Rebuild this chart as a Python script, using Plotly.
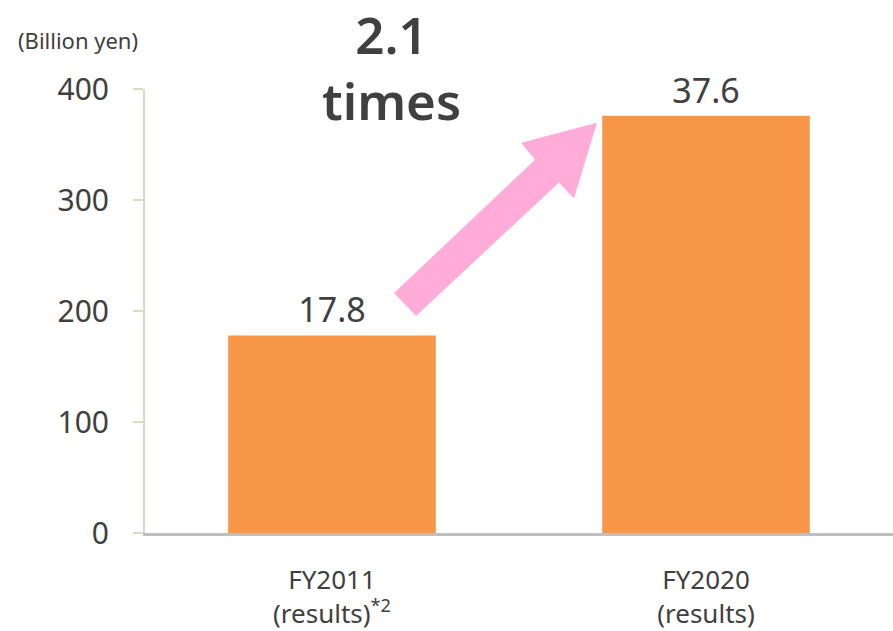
import plotly.graph_objects as go

categories = ["FY2011", "FY2020"]
tick_labels = ["FY2011<br>(results)<sup>*2</sup>", "FY2020<br>(results)"]
values = [178, 376]
bar_labels = ["17.8", "37.6"]
y_ticks = [0, 100, 200, 300, 400]

TXT = "#404040"
FONT = "Noto Sans"

fig = go.Figure()
fig.add_trace(go.Bar(
    x=categories, y=values, width=0.555,
    marker=dict(color="#F79646", line=dict(width=0)),
    text=bar_labels, textposition="outside",
    textfont=dict(size=34, color=TXT, family=FONT),
    cliponaxis=False, hoverinfo="skip",
))

fig.update_layout(
    width=893, height=631,
    margin=dict(l=145, r=0, t=89, b=96),
    paper_bgcolor="white", plot_bgcolor="white",
    showlegend=False,
    font=dict(family=FONT, color=TXT),
    xaxis=dict(
        type="category", range=[-0.5, 1.5],
        tickvals=categories, ticktext=tick_labels,
        tickfont=dict(size=26, color=TXT),
        showline=True, linecolor="#BFBFBF", linewidth=3,
        showgrid=False, ticks="", ticklabelstandoff=22,
    ),
    yaxis=dict(
        range=[0, 400], tickvals=y_ticks,
        tickfont=dict(size=30, color=TXT),
        showline=True, linecolor="#DDD9C3", linewidth=2,
        ticks="outside", ticklen=10, tickcolor="#DDD9C3", tickwidth=2,
        showgrid=False, zeroline=False, ticklabelstandoff=18,
    ),
)

# Axis unit label
fig.add_annotation(text="(Billion yen)", xref="paper", yref="paper",
                   x=-0.172, y=1.11, xanchor="left", yanchor="middle",
                   showarrow=False, font=dict(size=22, color=TXT, family=FONT))

# Growth multiple
fig.add_annotation(text="2.1<br>times", xref="paper", yref="paper",
                   x=0.329, y=1.05, xanchor="center", yanchor="middle",
                   showarrow=False,
                   font=dict(size=51, color=TXT, family=FONT, weight=600))

# Pink block arrow
pts = [(0.3329, 0.5404), (0.5214, 0.8408), (0.5027, 0.8789), (0.6043, 0.9238),
       (0.5735, 0.7534), (0.5535, 0.7892), (0.3623, 0.4888)]
path = "M " + " L ".join(f"{x},{y}" for x, y in pts) + " Z"
fig.add_shape(type="path", path=path, xref="paper", yref="paper",
              fillcolor="#FFADD8", line=dict(width=0), layer="above")

fig.write_html("out.html")
